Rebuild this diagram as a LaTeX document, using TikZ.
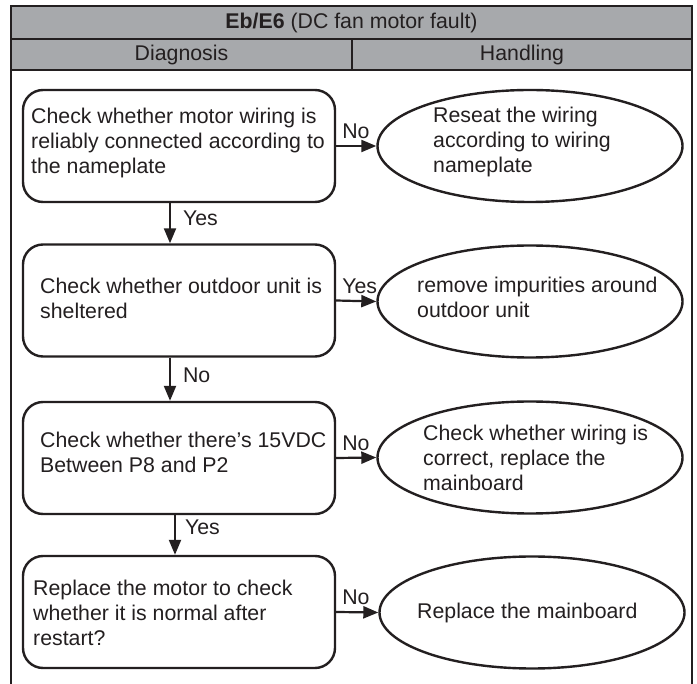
\documentclass[tikz,border=0pt]{standalone}
\usepackage{fontspec}
\setmainfont{Liberation Sans}
\usepackage{tikz}
\usetikzlibrary{positioning, shapes.geometric, arrows.meta, calc}
\definecolor{headgray}{HTML}{A7A9AC}
\definecolor{inkdark}{HTML}{231F20}

\begin{document}
\begin{tikzpicture}[x=1pt, y=-1pt,
  every node/.style={font=\fontsize{21.3}{25}\selectfont, text=inkdark},
  check/.style={draw=inkdark, line width=2.4pt, rounded corners=20pt,
                minimum width=312pt, minimum height=112pt, inner sep=0pt},
  action/.style={draw=inkdark, line width=2.4pt, ellipse,
                 minimum width=305pt, minimum height=112pt, inner sep=0pt},
  txt/.style={align=left, inner sep=0pt, anchor=west},
  lbl/.style={anchor=base west, inner sep=0pt},
  arrow/.style={-{Triangle[length=15pt, width=12pt]}, draw=inkdark, line width=2.2pt}
]
  \useasboundingbox[fill=white] (0,0) rectangle (697,684);

  \fill[headgray] (11,6) rectangle (692,70);
  \draw[draw=inkdark, line width=2.5pt] (11,684) -- (11,6) -- (692,6) -- (692,684);
  \draw[draw=inkdark, line width=2.5pt] (11,39) -- (692,39) (11,70) -- (692,70) (352,39) -- (352,70);

  \node (title) at (351.5,23) {\textbf{Eb/E6} (DC fan motor fault)};
  \node (diag)  at (181.5,55) {Diagnosis};
  \node (hand)  at (522,55)   {Handling};

  \node[check]  (chk1) at (179,146)   {};
  \node[check]  (chk2) at (179,300.5) {};
  \node[check]  (chk3) at (179,458)   {};
  \node[check]  (chk4) at (179,612)   {};
  \node[action] (act1) at (530,146)   {};
  \node[action] (act2) at (530,301.5) {};
  \node[action] (act3) at (530,457.5) {};
  \node[action] (act4) at (532,612.5) {};

  \node[txt] (chk1txt) at (31,143)  {Check whether motor wiring is\\reliably connected according to\\the nameplate};
  \node[txt] (chk2txt) at (40,298)  {Check whether outdoor unit is\\sheltered};
  \node[txt] (chk3txt) at (40,452)  {Check whether there’s 15VDC\\Between P8 and P2};
  \node[txt] (chk4txt) at (33,613)  {Replace the motor to check\\whether it is normal after\\restart?};
  \node[txt] (act1txt) at (433,142) {Reseat the wiring\\according to wiring\\nameplate};
  \node[txt] (act2txt) at (417,297) {remove impurities around\\outdoor unit};
  \node[txt] (act3txt) at (423,458) {Check whether wiring is\\correct, replace the\\mainboard};
  \node[txt] (act4txt) at (417,613) {Replace the mainboard};

  \draw[arrow] ([xshift=-9pt]chk1.south) -- ([xshift=-9pt]chk2.north)
    node[lbl, pos=0.5, xshift=12pt, yshift=-2pt] {Yes};
  \draw[arrow] ([xshift=-9pt]chk2.south) -- ([xshift=-9pt]chk3.north)
    node[lbl, pos=0.5, xshift=12pt, yshift=-3pt] {No};
  \draw[arrow] ([xshift=-4pt]chk3.south) -- ([xshift=-4pt]chk4.north)
    node[lbl, pos=0.5, xshift=9pt] {Yes};

  \draw[arrow] (chk1.east) -- (act1.west) node[lbl, pos=0, xshift=5pt, yshift=7pt] {No};
  \draw[arrow] (chk2.east) -- (act2.west) node[lbl, pos=0, xshift=5pt, yshift=7pt] {Yes};
  \draw[arrow] (chk3.east) -- (act3.west) node[lbl, pos=0, xshift=5pt, yshift=7pt] {No};
  \draw[arrow] (chk4.east) -- (act4.west) node[lbl, pos=0, xshift=5pt, yshift=7pt] {No};
\end{tikzpicture}
\end{document}
